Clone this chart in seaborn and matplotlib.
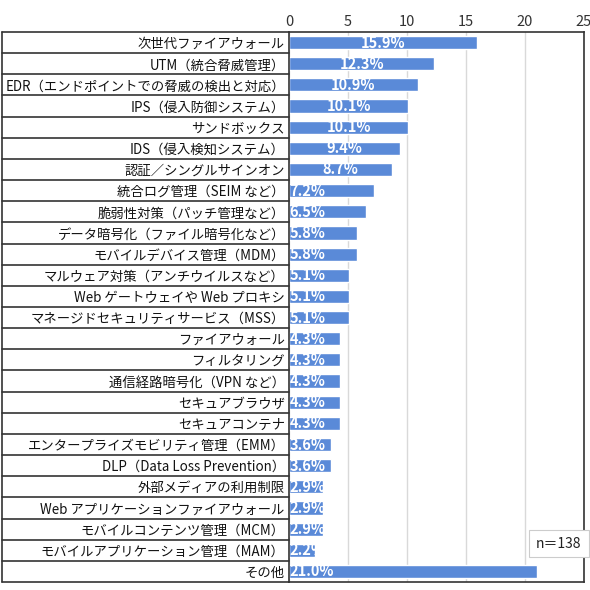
import pandas as pd
import matplotlib
matplotlib.use("Agg")
import matplotlib.pyplot as plt
import seaborn as sns

items = [
    "次世代ファイアウォール",
    "UTM（統合脅威管理）",
    "EDR（エンドポイントでの脅威の検出と対応）",
    "IPS（侵入防御システム）",
    "サンドボックス",
    "IDS（侵入検知システム）",
    "認証／シングルサインオン",
    "統合ログ管理（SEIM など）",
    "脆弱性対策（パッチ管理など）",
    "データ暗号化（ファイル暗号化など）",
    "モバイルデバイス管理（MDM）",
    "マルウェア対策（アンチウイルスなど）",
    "Web ゲートウェイや Web プロキシ",
    "マネージドセキュリティサービス（MSS）",
    "ファイアウォール",
    "フィルタリング",
    "通信経路暗号化（VPN など）",
    "セキュアブラウザ",
    "セキュアコンテナ",
    "エンタープライズモビリティ管理（EMM）",
    "DLP（Data Loss Prevention）",
    "外部メディアの利用制限",
    "Web アプリケーションファイアウォール",
    "モバイルコンテンツ管理（MCM）",
    "モバイルアプリケーション管理（MAM）",
    "その他",
]
values = [15.9, 12.3, 10.9, 10.1, 10.1, 9.4, 8.7, 7.2, 6.5, 5.8, 5.8, 5.1, 5.1,
          5.1, 4.3, 4.3, 4.3, 4.3, 4.3, 3.6, 3.6, 2.9, 2.9, 2.9, 2.2, 21.0]
# which labels sit in the middle of the bar (the rest sit at the base)
centered = [True] * 7 + [False] * 19
x_ticks = [0, 5, 10, 15, 20, 25]
note = "n＝138"

df = pd.DataFrame({"item": items, "value": values})

sns.set_theme(style="white")
plt.rcParams["font.family"] = ["Noto Sans CJK JP", "DejaVu Sans"]

bar_color = "#5A8AD8"
fig = plt.figure(figsize=(5.9, 5.9), dpi=100)
ax = fig.add_axes([289 / 590, 1 - 582 / 590, 295 / 590, 550 / 590])

sns.barplot(data=df, x="value", y="item", color=bar_color, saturation=1,
            width=0.62, ax=ax)

ax.set_xlim(0, 25)
ax.set_ylim(len(items) - 0.5, -0.5)
ax.set_xticks(x_ticks)
ax.xaxis.tick_top()
ax.tick_params(axis="x", length=0, pad=2, labelsize=10.5, labelcolor="#333333")
ax.tick_params(axis="y", length=0, pad=3, labelsize=9.6, labelcolor="#111111")
ax.set_xlabel("")
ax.set_ylabel("")
ax.xaxis.grid(True, color="#D9D9D9", linewidth=1)
ax.set_axisbelow(True)
for s in ax.spines.values():
    s.set_color("#333333")
    s.set_linewidth(1.2)

# value labels
for i, (v, c) in enumerate(zip(values, centered)):
    if c:
        ax.text(v / 2, i, f"{v:.1f}%", ha="center", va="center", color="white",
                fontsize=10.5, fontweight="bold")
    else:
        ax.text(0.05, i, f"{v:.1f}%", ha="left", va="center", color="white",
                fontsize=10.5, fontweight="bold")

# table lines for the label column
trans = ax.get_yaxis_transform()
left = (2 - 289) / 295
for k in range(len(items) + 1):
    y = k - 0.5
    ax.plot([left, 0], [y, y], transform=trans, color="#333333", lw=1.2,
            clip_on=False)
ax.plot([left, left], [-0.5, len(items) - 0.5], transform=trans,
        color="#333333", lw=1.2, clip_on=False)

ax.text(0.915, 0.07, note, transform=ax.transAxes, ha="center", va="center",
        fontsize=10, color="#222222",
        bbox=dict(boxstyle="square,pad=0.5", fc="white", ec="#CCCCCC", lw=0.8))

fig.savefig("out.png", dpi=100)
